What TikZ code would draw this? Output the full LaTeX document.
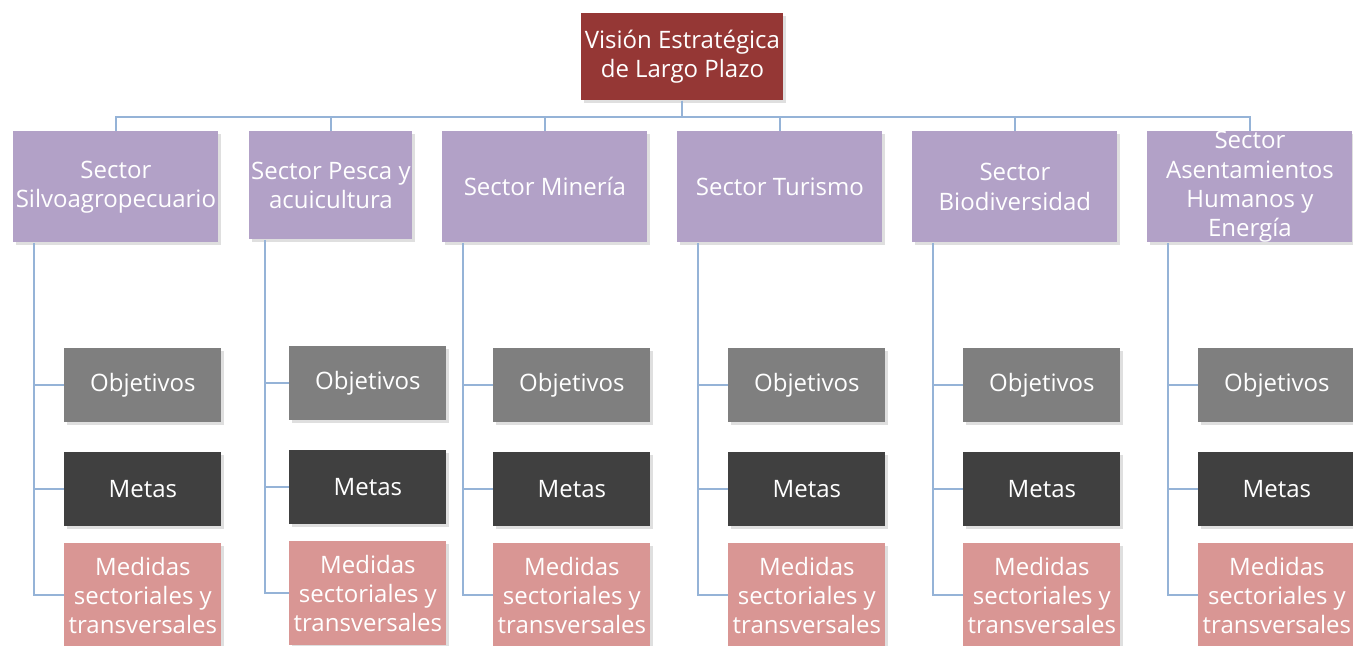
\documentclass[tikz,border=0pt]{standalone}
\usepackage{fontspec}
\setmainfont{Open Sans}
\usepackage{xcolor}
\usepackage{tikz}
\usetikzlibrary{positioning,shadows}

\definecolor{visionred}{HTML}{953735}
\definecolor{sectorlila}{HTML}{B2A1C7}
\definecolor{objgray}{HTML}{7F7F7F}
\definecolor{metagray}{HTML}{404040}
\definecolor{medrose}{HTML}{D99694}
\definecolor{linkblue}{HTML}{95B3D7}

\tikzset{
  box/.style={anchor=north west, inner sep=0pt, align=center, text=white,
    font=\fontsize{12}{14.6}\selectfont,
    drop shadow={shadow xshift=1.2pt, shadow yshift=-1.4pt, opacity=0.25}},
  vision/.style={box, fill=visionred, minimum width=101pt, minimum height=43.5pt},
  sector/.style={box, fill=sectorlila, minimum width=102.5pt, minimum height=55.5pt},
  objbox/.style={box, fill=objgray, minimum width=78.5pt, minimum height=37pt},
  metabox/.style={box, fill=metagray, minimum width=78.5pt, minimum height=37pt},
  medbox/.style={box, fill=medrose, minimum width=78.5pt, minimum height=52pt},
  link/.style={draw=linkblue, line width=1pt}
}

\begin{document}
\begin{tikzpicture}[x=0.5pt, y=-0.5pt]
\useasboundingbox (0,0) rectangle (1353,645);

% Top box
\node[vision] (vis) at (581,13) {Visión Estratégica\\de Largo Plazo};

% Sectors
\node[sector] (s1) at (13,131) {Sector\\Silvoagropecuario};
\node[sector, minimum width=81.5pt, minimum height=54pt] (s2) at (249,131) {Sector Pesca y\\acuicultura};
\node[sector] (s3) at (442,131) {Sector Minería};
\node[sector] (s4) at (677,131) {Sector Turismo};
\node[sector] (s5) at (912,131) {Sector\\Biodiversidad};
\node[sector] (s6) at (1147,131) {Sector\\Asentamientos\\Humanos y\\Energía};

% Bus from the vision box to the sectors
\draw[link] (vis.south) -- ++(0,16) -| (s1.north);
\draw[link] (vis.south) -- ++(0,16) -| (s2.north);
\draw[link] (vis.south) -- ++(0,16) -| (s3.north);
\draw[link] (vis.south) -- ++(0,16) -| (s4.north);
\draw[link] (vis.south) -- ++(0,16) -| (s5.north);
\draw[link] (vis.south) -- ++(0,16) -| (s6.north);

% Children of each sector
\node[objbox] (o1) at (64,348) {Objetivos};
\node[metabox] (m1) at (64,452) {Metas};
\node[medbox] (d1) at (64,543) {Medidas\\sectoriales y\\transversales};

\node[objbox] (o2) at (289,346) {Objetivos};
\node[metabox] (m2) at (289,450) {Metas};
\node[medbox] (d2) at (289,541) {Medidas\\sectoriales y\\transversales};

\node[objbox] (o3) at (493,348) {Objetivos};
\node[metabox] (m3) at (493,452) {Metas};
\node[medbox] (d3) at (493,543) {Medidas\\sectoriales y\\transversales};

\node[objbox] (o4) at (728,348) {Objetivos};
\node[metabox] (m4) at (728,452) {Metas};
\node[medbox] (d4) at (728,543) {Medidas\\sectoriales y\\transversales};

\node[objbox] (o5) at (963,348) {Objetivos};
\node[metabox] (m5) at (963,452) {Metas};
\node[medbox] (d5) at (963,543) {Medidas\\sectoriales y\\transversales};

\node[objbox] (o6) at (1198,348) {Objetivos};
\node[metabox] (m6) at (1198,452) {Metas};
\node[medbox] (d6) at (1198,543) {Medidas\\sectoriales y\\transversales};

% Spines
\coordinate (sp1) at ([xshift=10.5pt]s1.south west);
\coordinate (sp2) at ([xshift=8pt]s2.south west);
\coordinate (sp3) at ([xshift=10.5pt]s3.south west);
\coordinate (sp4) at ([xshift=10.5pt]s4.south west);
\coordinate (sp5) at ([xshift=10.5pt]s5.south west);
\coordinate (sp6) at ([xshift=10.5pt]s6.south west);

\draw[link] (sp1) |- (d1.west); \draw[link] (o1.west) -- (o1.west -| sp1); \draw[link] (m1.west) -- (m1.west -| sp1);
\draw[link] (sp2) |- (d2.west); \draw[link] (o2.west) -- (o2.west -| sp2); \draw[link] (m2.west) -- (m2.west -| sp2);
\draw[link] (sp3) |- (d3.west); \draw[link] (o3.west) -- (o3.west -| sp3); \draw[link] (m3.west) -- (m3.west -| sp3);
\draw[link] (sp4) |- (d4.west); \draw[link] (o4.west) -- (o4.west -| sp4); \draw[link] (m4.west) -- (m4.west -| sp4);
\draw[link] (sp5) |- (d5.west); \draw[link] (o5.west) -- (o5.west -| sp5); \draw[link] (m5.west) -- (m5.west -| sp5);
\draw[link] (sp6) |- (d6.west); \draw[link] (o6.west) -- (o6.west -| sp6); \draw[link] (m6.west) -- (m6.west -| sp6);

\end{tikzpicture}
\end{document}
